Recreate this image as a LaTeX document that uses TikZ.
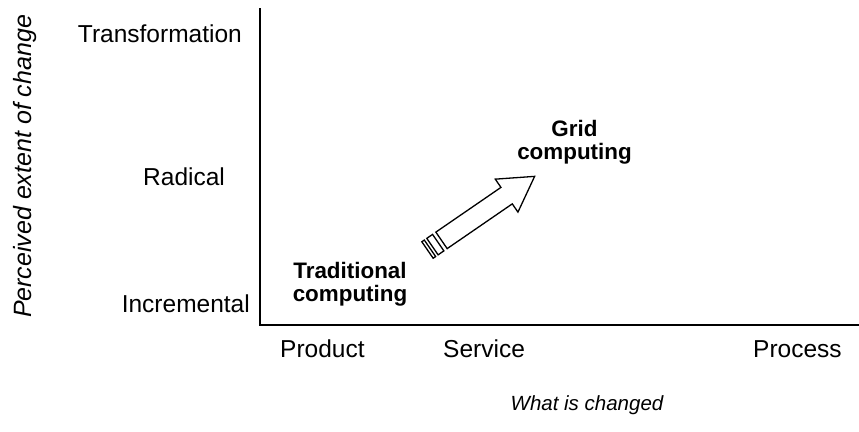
\documentclass[tikz,border=0pt]{standalone}
\usepackage{fontspec}
\setmainfont{Liberation Sans}
\begin{document}
\begin{tikzpicture}[x=1pt,y=-1pt,
  axis/.style={line width=2pt},
  lbl/.style={inner sep=0pt,font=\fontsize{24.5}{28}\selectfont},
  axtitle/.style={inner sep=0pt,font=\fontsize{20.5}{24}\selectfont\itshape},
  tech/.style={inner sep=0pt,align=center,font=\fontsize{22.4}{23}\selectfont\bfseries},
  blockarrow/.style={draw=black,fill=white,line width=1.3pt,line join=miter}]
\useasboundingbox (0,0) rectangle (859,431);

% axes
\coordinate (top) at (260,8);
\coordinate (origin) at (260,324.5);
\coordinate (right) at (859,324.5);
\draw[axis] (top) -- (origin) -- (right);

% vertical scale
\node[lbl,anchor=base east] (transf) at (242,42) {Transformation};
\node[lbl,anchor=base west] (radical) at (143,185) {Radical};
\node[lbl,anchor=base east] (incr) at (250,312) {Incremental};
\node[lbl,anchor=base,rotate=90,font=\fontsize{25}{28}\selectfont\itshape] (ytitle) at (31,166.5) {Perceived extent of change};

% horizontal scale
\node[lbl,anchor=base west] (product) at (280,357) {Product};
\node[lbl,anchor=base west] (service) at (443,357) {Service};
\node[lbl,anchor=base west] (process) at (753,357) {Process};
\node[axtitle,anchor=base] (xtitle) at (587,410) {What is changed};

% positions
\node[tech] (trad) at (350,284.7) {Traditional\\computing};
\node[tech] (grid) at (574.5,142.7) {Grid\\computing};

% striped block arrow
\begin{scope}[shift={(427.5,250)},rotate=34.5]
  \draw[blockarrow] (0,-10) rectangle (3,10);
  \draw[blockarrow] (6,-10) rectangle (13,10);
  \draw[blockarrow] (17,-10) -- (96,-10) -- (96,-20) -- (130,0)
        -- (96,20) -- (96,10) -- (17,10) -- cycle;
\end{scope}
\end{tikzpicture}
\end{document}
